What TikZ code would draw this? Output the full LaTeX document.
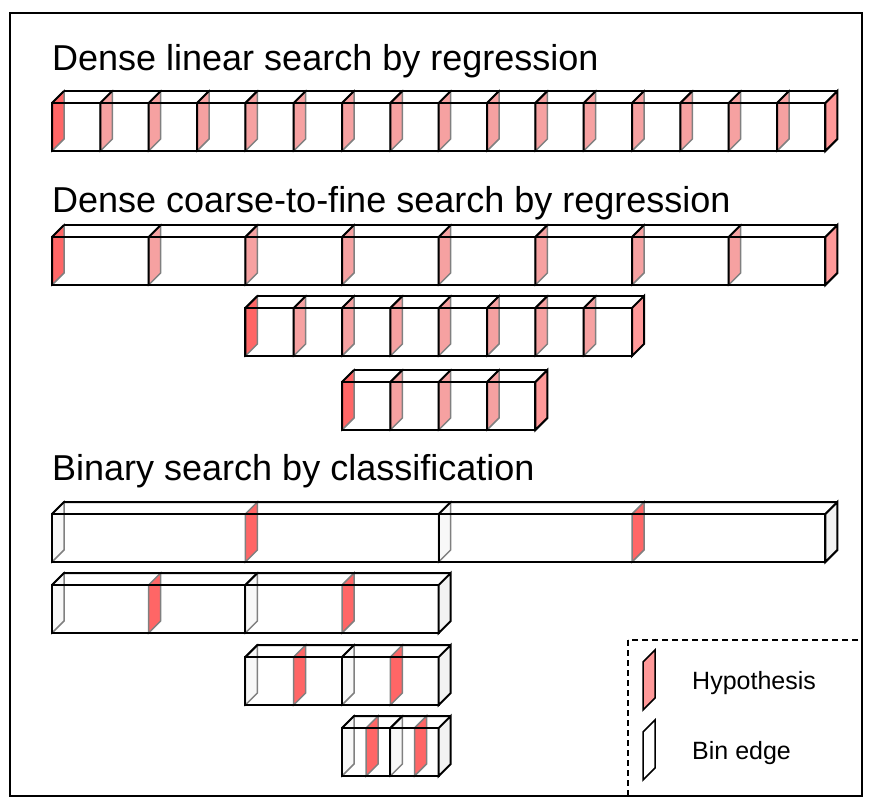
\documentclass[tikz,border=0pt]{standalone}
\usepackage{fontspec}
\setmainfont{Liberation Sans}
\usepackage{tikz}

\definecolor{hypdark}{HTML}{FF6666}
\definecolor{hyplight}{HTML}{F6A1A1}
\definecolor{endred}{HTML}{FF9999}
\definecolor{binfill}{HTML}{F8F8F8}
\definecolor{endgray}{HTML}{F2F2F2}
\definecolor{slabline}{HTML}{808080}

\begin{document}
\begin{tikzpicture}[x=1pt, y=-1pt,
    box/.style={line width=2pt},
    slab/.style={draw=slabline, line width=1.5pt},
    title/.style={anchor=base west, inner sep=0pt, font=\fontsize{36}{40}\selectfont},
    legend/.style={anchor=base west, inner sep=0pt, font=\fontsize{25}{30}\selectfont}]
    \useasboundingbox (0,0) rectangle (870,811);
    \draw[line width=2pt] (10,13) rectangle (862,796);

    \node[title] (lineartitle) at (52,70) {Dense linear search by regression};
    \node[title] (coarsetitle) at (52,212) {Dense coarse-to-fine search by regression};
    \node[title] (binarytitle) at (52,480) {Binary search by classification};

    % dense rows: left x / cell width / cells / front top
    \foreach \xo/\w/\n/\t in {52/48.333/16/103, 52/96.667/8/237, 245.333/48.333/8/308, 342/48.333/4/382} {
        \foreach \i in {1,...,\n} {
            \pgfmathsetmacro\xa{\xo+(\i-1)*\w}
            \ifnum\i=1 \def\c{hypdark}\else\def\c{hyplight}\fi
            \filldraw[slab, fill=\c] (\xa,\t+48) -- (\xa,\t) -- ++(12,-12) -- ++(0,48) -- cycle;
            \draw[box] (\xa,\t+48) -- (\xa,\t) -- ++(12,-12);
        }
        \pgfmathsetmacro\xb{\xo+\n*\w}
        \draw[box] (\xo,\t) rectangle (\xb,\t+48);
        \draw[box] ({\xo+12},\t-12) -- ({\xb+12},\t-12);
        \filldraw[box, fill=endred] (\xb,\t+48) -- (\xb,\t) -- ++(12,-12) -- ++(0,48) -- cycle;
    }

    % binary rows: box left / box right / front top
    \foreach \xa/\xb/\t in {52/438.667/514, 438.667/825.333/514, 52/245.333/585, 245.333/438.667/585,
                            245.333/342/657, 342/438.667/657, 342/390.333/728, 390.333/438.667/728} {
        \pgfmathsetmacro\xm{(\xa+\xb)/2}
        \filldraw[slab, fill=binfill] (\xa,\t+48) -- (\xa,\t) -- ++(12,-12) -- ++(0,48) -- cycle;
        \filldraw[slab, fill=hypdark] (\xm,\t+48) -- (\xm,\t) -- ++(12,-12) -- ++(0,48) -- cycle;
        \draw[box] (\xa,\t) rectangle (\xb,\t+48);
        \draw[box] (\xa,\t) -- ++(12,-12) -- ({\xb+12},\t-12);
    }
    \foreach \xb/\t in {825.333/514, 438.667/585, 438.667/657, 438.667/728}
        \filldraw[box, fill=endgray] (\xb,\t+48) -- (\xb,\t) -- ++(12,-12) -- ++(0,48) -- cycle;

    % legend
    \draw[line width=1.8pt, dash pattern=on 6pt off 4pt] (628,640) rectangle (862,796);
    \filldraw[line width=1.5pt, fill=endred] (643,710) -- (643,662) -- (655,650) -- (655,698) -- cycle;
    \filldraw[line width=1.5pt, fill=white] (643,780) -- (643,732) -- (655,720) -- (655,768) -- cycle;
    \node[legend] (hyptext) at (692,689) {Hypothesis};
    \node[legend] (bintext) at (692,759) {Bin edge};
\end{tikzpicture}
\end{document}
